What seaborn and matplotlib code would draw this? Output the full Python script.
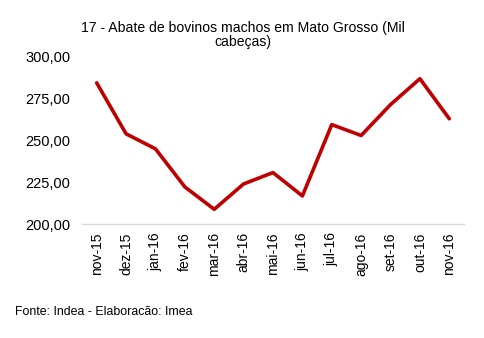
import matplotlib
matplotlib.use("Agg")
import matplotlib.pyplot as plt
import seaborn as sns
import pandas as pd
from matplotlib.ticker import FuncFormatter

meses = ["nov-15", "dez-15", "jan-16", "fev-16", "mar-16", "abr-16", "mai-16",
         "jun-16", "jul-16", "ago-16", "set-16", "out-16", "nov-16"]
abate = [284.5, 254.0, 245.0, 222.2, 208.8, 224.0, 230.8,
         216.8, 259.5, 253.0, 271.5, 287.0, 263.0]
yticks = [200, 225, 250, 275, 300]

sns.set_theme(style="white")
plt.rcParams["font.family"] = ["Liberation Sans", "DejaVu Sans"]

df = pd.DataFrame({"mes": meses, "abate": abate})

fig = plt.figure(figsize=(4.85, 3.38), dpi=100)
ax = fig.add_axes([82 / 485, (338 - 224) / 338, (464 - 82) / 485, (224 - 57) / 338])

sns.lineplot(data=df, x="mes", y="abate", sort=False, color="#C00000",
             linewidth=2.6, ax=ax, clip_on=False)

ax.set_xlim(-0.5, len(meses) - 0.5)
ax.set_ylim(200, 300)
ax.set_yticks(yticks)
ax.yaxis.set_major_formatter(FuncFormatter(lambda v, _: f"{v:.2f}".replace(".", ",")))
ax.set_xlabel("")
ax.set_ylabel("")

for s in ["top", "right", "left"]:
    ax.spines[s].set_visible(False)
ax.spines["bottom"].set_color("#d9d9d9")
ax.spines["bottom"].set_linewidth(1.0)

ax.tick_params(axis="y", labelsize=10.5, length=0, pad=8.5, colors="black")
ax.tick_params(axis="x", labelsize=10, length=0, pad=6, colors="black", rotation=90)

fig.text(0.5, 1 - 35 / 338, "17 - Abate de bovinos machos em Mato Grosso (Mil\ncabeças)",
         ha="center", va="center", fontsize=10.1, linespacing=1.05, color="black")
fig.text(15 / 485, 1 - 312 / 338, "Fonte: Indea - Elaboracão: Imea",
         ha="left", va="center", fontsize=8.9, color="black")

fig.savefig("out.png", dpi=100)
